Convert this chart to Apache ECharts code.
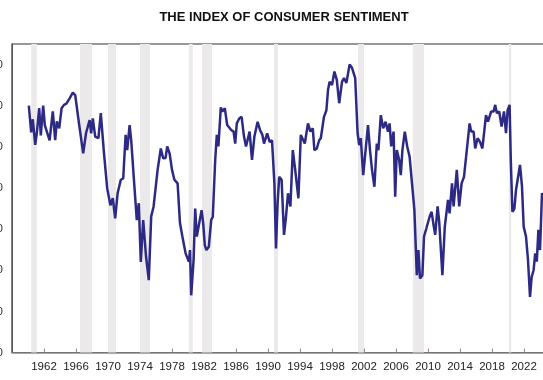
<!DOCTYPE html>
<html>
<head>
<meta charset="utf-8">
<script src="https://cdn.jsdelivr.net/npm/echarts/dist/echarts.min.js"></script>
<style>
  html, body { margin: 0; padding: 0; width: 543px; height: 380px; overflow: hidden; background: #fff; }
  #myChart { position: absolute; left: -40px; top: 0; width: 648px; height: 380px; }
</style>
</head>
<body>
<div id="myChart"></div>
<script>
// decimal year of each reading
var years = [
    1960.1, 1960.4, 1960.6, 1960.9, 1961.1, 1961.4, 1961.6, 1961.9, 1962.1, 1962.7,
    1963.1, 1963.4, 1963.6, 1963.9, 1964.2, 1964.5, 1964.8, 1965.2, 1965.6, 1965.9,
    1966.4, 1966.9, 1967.25, 1967.7, 1967.9, 1968.1, 1968.4, 1968.8, 1969.1, 1969.5,
    1969.9, 1970.3, 1970.6, 1970.9, 1971.2, 1971.6, 1971.9, 1972.2, 1972.4, 1972.7,
    1972.9, 1973.3, 1973.6, 1973.85, 1974.1, 1974.4, 1974.75, 1975.1, 1975.4, 1975.7,
    1975.9, 1976.2, 1976.35, 1976.6, 1976.9, 1977.2, 1977.4, 1977.7, 1978.0, 1978.3,
    1978.7, 1979.0, 1979.3, 1979.7, 1979.9, 1980.1, 1980.25, 1980.4, 1980.7, 1980.9,
    1981.1, 1981.4, 1981.7, 1981.9, 1982.1, 1982.3, 1982.6, 1982.9, 1983.1, 1983.4,
    1983.6, 1983.8, 1984.1, 1984.3, 1984.6, 1984.9, 1985.4, 1985.7, 1985.9, 1986.1,
    1986.4, 1986.7, 1987.0, 1987.25, 1987.7, 1988.0, 1988.3, 1988.7, 1989.0, 1989.3,
    1989.5, 1989.9, 1990.2, 1990.5, 1990.8, 1991.0, 1991.2, 1991.4, 1991.7, 1992.0,
    1992.25, 1992.5, 1992.8, 1993.1, 1993.4, 1993.8, 1994.1, 1994.3, 1994.6, 1995.0,
    1995.3, 1995.6, 1995.8, 1996.1, 1996.4, 1996.6, 1997.0, 1997.3, 1997.5, 1997.7,
    1998.0, 1998.3, 1998.6, 1998.9, 1999.25, 1999.5, 1999.8, 2000.2, 2000.5, 2000.9,
    2001.2, 2001.4, 2001.6, 2001.9, 2002.2, 2002.5, 2002.75, 2003.0, 2003.3, 2003.6,
    2003.8, 2004.1, 2004.4, 2004.7, 2005.0, 2005.2, 2005.4, 2005.7, 2005.9, 2006.1,
    2006.4, 2006.6, 2006.8, 2007.1, 2007.4, 2007.7, 2008.0, 2008.3, 2008.6, 2008.8,
    2009.0, 2009.3, 2009.5, 2009.8, 2010.2, 2010.45, 2010.7, 2010.9, 2011.2, 2011.4,
    2011.8, 2012.1, 2012.5, 2012.7, 2013.0, 2013.2, 2013.6, 2013.9, 2014.2, 2014.5,
    2014.75, 2015.2, 2015.4, 2015.7, 2015.9, 2016.2, 2016.5, 2016.8, 2017.25, 2017.5,
    2017.9, 2018.2, 2018.4, 2018.6, 2018.9, 2019.2, 2019.5, 2019.75, 2019.95, 2020.2,
    2020.35, 2020.55, 2020.8, 2021.0, 2021.2, 2021.5, 2021.75, 2021.96, 2022.25, 2022.5,
    2022.75, 2022.96, 2023.2, 2023.4, 2023.6, 2023.8, 2024.0, 2024.25, 2024.5
];

// index value
var sentiment = [
    100, 93.5, 96.7, 90.5, 93.3, 99.4, 92.8, 100, 95.3, 91.6,
    98.6, 91.6, 96.2, 94.5, 99.4, 100.2, 100.5, 101.8, 103.2, 102.6,
    95.3, 88.4, 93.3, 96.5, 93.3, 96.9, 92.5, 92.1, 98.2, 88.4,
    79.9, 75.8, 77.5, 72.6, 78.7, 82.0, 82.3, 92.9, 89.2, 95.3,
    91.6, 80.4, 72.2, 76.3, 62.0, 72.2, 63.4, 57.6, 73.1, 75.5,
    75.8, 84.4, 84.0, 89.6, 87.2, 87.3, 90.1, 88.4, 84.4, 82.0,
    81.1, 71.4, 68.2, 64.1, 64.5, 62.1, 64.9, 53.9, 62.5, 75.0,
    68.2, 71.4, 74.6, 71.4, 66.1, 64.9, 65.7, 72.2, 73.0, 86.8,
    92.9, 90.1, 99.6, 98.6, 99.4, 95.3, 94.1, 93.7, 90.8, 95.7,
    96.9, 97.3, 92.5, 90.1, 93.7, 86.8, 92.5, 96.1, 94.1, 92.9,
    90.8, 93.3, 91.2, 91.6, 81.1, 65.3, 76.3, 82.7, 82.0, 68.6,
    73.0, 78.7, 75.5, 89.2, 84.4, 77.5, 92.9, 93.3, 90.8, 95.7,
    93.7, 94.5, 89.2, 89.6, 91.6, 92.1, 97.3, 98.9, 103.8, 105.8,
    105.0, 108.3, 106.3, 100.6, 105.8, 106.7, 105.5, 110.0, 109.2, 106.7,
    93.3, 90.4, 92.1, 83.1, 89.2, 95.3, 89.2, 84.4, 80.3, 90.8,
    89.2, 97.7, 94.5, 96.1, 93.7, 95.7, 90.1, 93.7, 77.9, 89.2,
    86.8, 83.1, 89.2, 93.7, 90.1, 87.6, 81.1, 74.6, 58.8, 64.9,
    58.0, 58.8, 68.2, 70.2, 73.0, 74.2, 70.9, 68.6, 75.5, 71.8,
    58.8, 70.6, 77.1, 73.8, 81.1, 75.5, 84.4, 75.5, 81.1, 82.7,
    82.7, 95.7, 93.7, 93.7, 89.6, 92.1, 91.2, 89.6, 97.7, 96.1,
    98.6, 98.6, 100.2, 98.2, 98.6, 94.9, 98.6, 93.3, 98.9, 100.2,
    86.8, 74.2, 75.0, 79.5, 79.5, 85.6, 80.3, 70.6, 68.2, 62.5,
    53.5, 58.4, 60.0, 64.1, 62.1, 69.8, 64.9, 78.7, 78.0
];

// shaded recession periods [start, end]
var recessions = [
    [1960.4, 1961.1], [1966.5, 1968.0], [1970.0, 1971.0], [1974.0, 1975.25],
    [1980.1, 1980.6], [1981.75, 1983.0], [1990.75, 1991.25], [2001.25, 2002.0],
    [2008.1, 2009.5], [2020.1, 2020.4]
];

var myChart = echarts.init(document.getElementById('myChart'));

var points = [];
for (var i = 0; i < years.length; i++) {
    points.push([years[i], sentiment[i]]);
}
var bands = [];
for (var j = 0; j < recessions.length; j++) {
    bands.push([{xAxis: recessions[j][0]}, {xAxis: recessions[j][1]}]);
}

var option = {
    animation: false,
    title: {
        text: 'THE INDEX OF CONSUMER SENTIMENT',
        left: 'center', top: 6,
        textStyle: {fontFamily: 'Arial, Liberation Sans', fontSize: 13, fontWeight: 'bold', color: '#111'}
    },
    grid: {left: 52, top: 44, width: 544, height: 308.5, show: true, borderColor: '#333', borderWidth: 1.2},
    xAxis: {
        type: 'value', min: 1958, max: 2026, interval: 4,
        axisLine: {show: true, lineStyle: {color: '#8a8a8a', width: 1.5}},
        axisTick: {show: true, inside: true, length: 4, lineStyle: {color: '#8a8a8a'}},
        axisLabel: {showMinLabel: false, margin: 8, color: '#222', fontSize: 11.5, fontFamily: 'Arial, Liberation Sans',
            formatter: function (v) { return String(v); }},
        splitLine: {show: false}
    },
    yAxis: {
        type: 'value', min: 40, max: 115, interval: 10,
        axisLine: {show: true, lineStyle: {color: '#555'}},
        axisTick: {show: false},
        axisLabel: {margin: 9, color: '#333', fontSize: 11.5, fontFamily: 'Arial, Liberation Sans', showMaxLabel: false},
        splitLine: {show: false}
    },
    series: [{
        type: 'line', name: 'Sentiment', data: points,
        showSymbol: false, symbol: 'none',
        lineStyle: {color: '#2d2a85', width: 2.5},
        markArea: {silent: true, itemStyle: {color: '#ebe9e9'}, data: bands}
    }]
};
myChart.setOption(option);
</script>
</body>
</html>
